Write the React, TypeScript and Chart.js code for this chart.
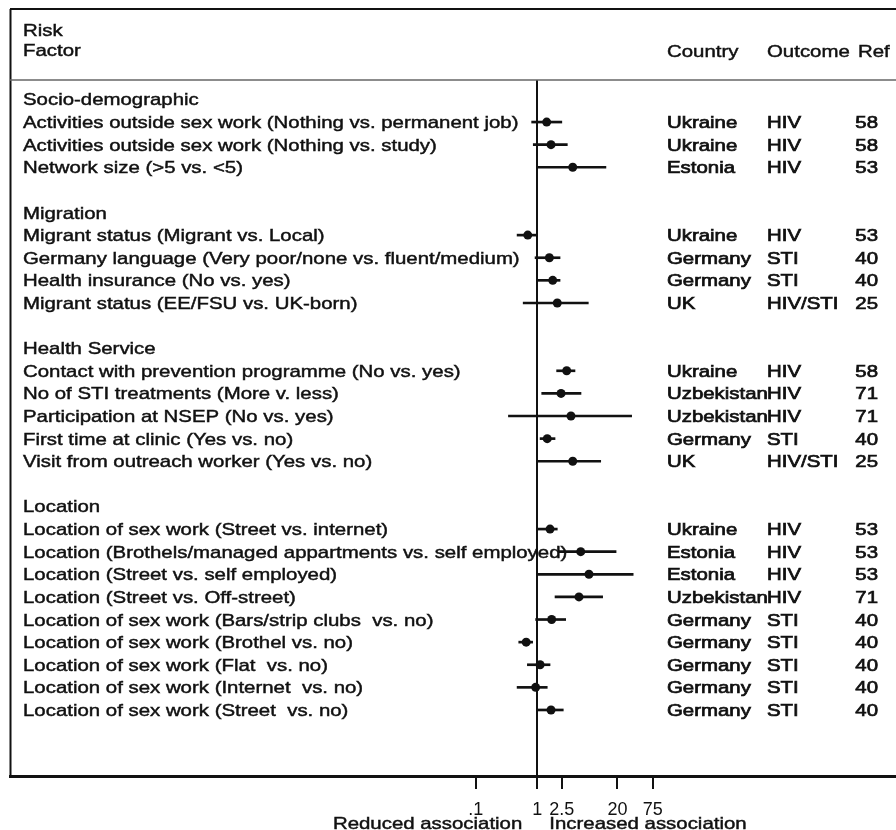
import React, { useEffect, useRef } from "react";
import { Chart, registerables } from "chart.js";

Chart.register(...registerables);

// One entry per table row (section headings and blank spacer rows included).
const rowLabels = [
  "Socio-demographic",
  "Activities outside sex work (Nothing vs. permanent job)",
  "Activities outside sex work (Nothing vs. study)",
  "Network size (>5 vs. <5)",
  "",
  "Migration",
  "Migrant status (Migrant vs. Local)",
  "Germany language (Very poor/none vs. fluent/medium)",
  "Health insurance (No vs. yes)",
  "Migrant status (EE/FSU vs. UK-born)",
  "",
  "Health Service",
  "Contact with prevention programme (No vs. yes)",
  "No of STI treatments (More v. less)",
  "Participation at NSEP (No vs. yes)",
  "First time at clinic (Yes vs. no)",
  "Visit from outreach worker (Yes vs. no)",
  "",
  "Location",
  "Location of sex work (Street vs. internet)",
  "Location (Brothels/managed appartments vs. self employed)",
  "Location (Street vs. self employed)",
  "Location (Street vs. Off-street)",
  "Location of sex work (Bars/strip clubs  vs. no)",
  "Location of sex work (Brothel vs. no)",
  "Location of sex work (Flat  vs. no)",
  "Location of sex work (Internet  vs. no)",
  "Location of sex work (Street  vs. no)",
];

const countries = [
  "", "Ukraine", "Ukraine", "Estonia", "",
  "", "Ukraine", "Germany", "Germany", "UK", "",
  "", "Ukraine", "Uzbekistan", "Uzbekistan", "Germany", "UK", "",
  "", "Ukraine", "Estonia", "Estonia", "Uzbekistan", "Germany", "Germany", "Germany", "Germany", "Germany",
];

const outcomes = [
  "", "HIV", "HIV", "HIV", "",
  "", "HIV", "STI", "STI", "HIV/STI", "",
  "", "HIV", "HIV", "HIV", "STI", "HIV/STI", "",
  "", "HIV", "HIV", "HIV", "HIV", "STI", "STI", "STI", "STI", "STI",
];

const refs = [
  "", "58", "58", "53", "",
  "", "53", "40", "40", "25", "",
  "", "58", "71", "71", "40", "25", "",
  "", "53", "53", "53", "71", "40", "40", "40", "40", "40",
];

// Point estimates and 95% confidence limits (null where the row has no estimate).
const estimates = [
  null, 1.42, 1.67, 3.76, null,
  null, 0.7, 1.57, 1.78, 2.11, null,
  null, 3.0, 2.43, 3.52, 1.45, 3.76, null,
  null, 1.61, 5.07, 6.9, 4.75, 1.71, 0.66, 1.11, 0.94, 1.67,
];

const ciLower = [
  null, 0.81, 0.86, 1.0, null,
  null, 0.47, 0.92, 1.0, 0.59, null,
  null, 2.06, 1.18, 0.34, 1.11, 1.0, null,
  null, 1.0, 2.2, 1.0, 1.94, 0.94, 0.5, 0.69, 0.47, 1.0,
];

const ciUpper = [
  null, 2.5, 3.07, 13.0, null,
  null, 0.98, 2.34, 2.34, 6.73, null,
  null, 4.09, 5.12, 34, 1.94, 10.7, null,
  null, 2.11, 19, 36, 11.5, 2.89, 0.84, 1.61, 1.45, 2.64,
];

const xTicks = [0.1, 1, 2.5, 20, 75];
const headerLeft = ["Risk", "Factor"];
const headerRight = ["Country", "Outcome", "Ref"];
const directionLabels = ["Reduced association", "Increased association"];

// Log10 extent of the x axis across the full table width.
const X_MIN_EXP = -8.56;
const X_MAX_EXP = 5.823;

const FONT = '"Liberation Sans", Arial, sans-serif';
const TEXT_SIZE = 17;
const STRETCH = 1.2;
const INK = "#111";

function drawText(
  ctx: CanvasRenderingContext2D,
  text: string,
  x: number,
  y: number,
  align: CanvasTextAlign = "left",
  weight = 0.45
) {
  ctx.save();
  ctx.translate(x, y);
  ctx.scale(STRETCH, 1);
  ctx.font = `${TEXT_SIZE}px ${FONT}`;
  ctx.textAlign = align;
  ctx.textBaseline = "alphabetic";
  ctx.fillStyle = INK;
  ctx.fillText(text, 0, 0);
  if (weight > 0) {
    ctx.strokeStyle = INK;
    ctx.lineWidth = weight;
    ctx.strokeText(text, 0, 0);
  }
  ctx.restore();
}

const tablePlugin = {
  id: "forestTable",
  afterDraw(chart: any) {
    const { ctx, chartArea } = chart;
    const yScale = chart.scales.y;
    const xScale = chart.scales.x;
    const left = chartArea.left;
    const right = chart.width;
    const top = chartArea.top;

    ctx.save();
    // frame: top rule, left rule, header separator
    ctx.strokeStyle = INK;
    ctx.lineWidth = 2;
    ctx.beginPath();
    ctx.moveTo(left, 9);
    ctx.lineTo(right, 9);
    ctx.moveTo(left + 0.5, 9);
    ctx.lineTo(left + 0.5, chartArea.bottom);
    ctx.stroke();
    ctx.strokeStyle = "#666";
    ctx.lineWidth = 1.5;
    ctx.beginPath();
    ctx.moveTo(left, top);
    ctx.lineTo(right, top);
    ctx.stroke();
    ctx.restore();

    // header
    drawText(ctx, headerLeft[0], 23, top - 44);
    drawText(ctx, headerLeft[1], 23, top - 24);
    drawText(ctx, headerRight[0], 667, top - 23);
    drawText(ctx, headerRight[1], 767, top - 23);
    drawText(ctx, headerRight[2], 858, top - 23);

    // rows
    rowLabels.forEach((label, i) => {
      const base = yScale.getPixelForValue(i) + 6;
      if (label) drawText(ctx, label, 23, base);
      if (countries[i]) drawText(ctx, countries[i], 667, base, "left", 0.7);
      if (outcomes[i]) drawText(ctx, outcomes[i], 767, base, "left", 0.7);
      if (refs[i]) drawText(ctx, refs[i], 878, base, "right", 0.7);
    });

    // direction labels either side of the null line
    const nullX = xScale.getPixelForValue(1);
    drawText(ctx, directionLabels[0], nullX - 15, 829, "right");
    drawText(ctx, directionLabels[1], nullX + 12, 829, "left");
  },
};

export default function App() {
  const canvasRef = useRef<HTMLCanvasElement | null>(null);

  useEffect(() => {
    const canvas = canvasRef.current;
    if (!canvas) return;

    const rows = rowLabels.map((_, i) => i).filter((i) => estimates[i] !== null);

    const chart = new Chart(canvas, {
      type: "bar",
      data: {
        datasets: [
          {
            type: "bar",
            label: "95% CI",
            data: rows.map((i) => ({ x: [ciLower[i], ciUpper[i]], y: i })) as any,
            backgroundColor: INK,
            borderWidth: 0,
            barThickness: 2,
            grouped: false,
          } as any,
          {
            type: "scatter",
            label: "Estimate",
            data: rows.map((i) => ({ x: estimates[i], y: i })) as any,
            backgroundColor: INK,
            borderWidth: 0,
            pointRadius: 4.5,
            pointStyle: "circle",
          } as any,
        ],
      },
      options: {
        indexAxis: "y",
        responsive: false,
        animation: false,
        events: [],
        layout: { autoPadding: false, padding: { left: 10, top: 80, right: 0, bottom: 0 } },
        plugins: {
          legend: { display: false },
          tooltip: { enabled: false },
          title: { display: false },
        },
        scales: {
          x: {
            type: "logarithmic",
            position: "bottom",
            min: Math.pow(10, X_MIN_EXP),
            max: Math.pow(10, X_MAX_EXP),
            afterBuildTicks: (scale: any) => {
              scale.ticks = xTicks.map((v) => ({ value: v }));
            },
            afterFit: (scale: any) => {
              scale.height = 54;
            },
            ticks: {
              autoSkip: false,
              maxRotation: 0,
              padding: 10,
              color: INK,
              font: { family: FONT, size: 18 },
              callback: (v: any) => (Number(v) === 0.1 ? ".1" : String(v)),
            },
            grid: {
              color: (c: any) => (c.tick && c.tick.value === 1 ? INK : "rgba(0,0,0,0)"),
              lineWidth: 2,
              tickColor: INK,
              tickWidth: 2,
              tickLength: 13,
              drawOnChartArea: true,
            },
            border: { display: true, color: INK, width: 3 },
          },
          y: {
            type: "linear",
            offset: false,
            min: -0.86,
            max: 29.92,
            reverse: true,
            display: false,
          },
        },
      } as any,
      plugins: [tablePlugin],
    });

    return () => chart.destroy();
  }, []);

  return (
    <div style={{ position: "absolute", left: 0, top: 0, width: 896, height: 830, background: "#fff" }}>
      <canvas ref={canvasRef} width={896} height={830} style={{ display: "block" }} />
    </div>
  );
}
